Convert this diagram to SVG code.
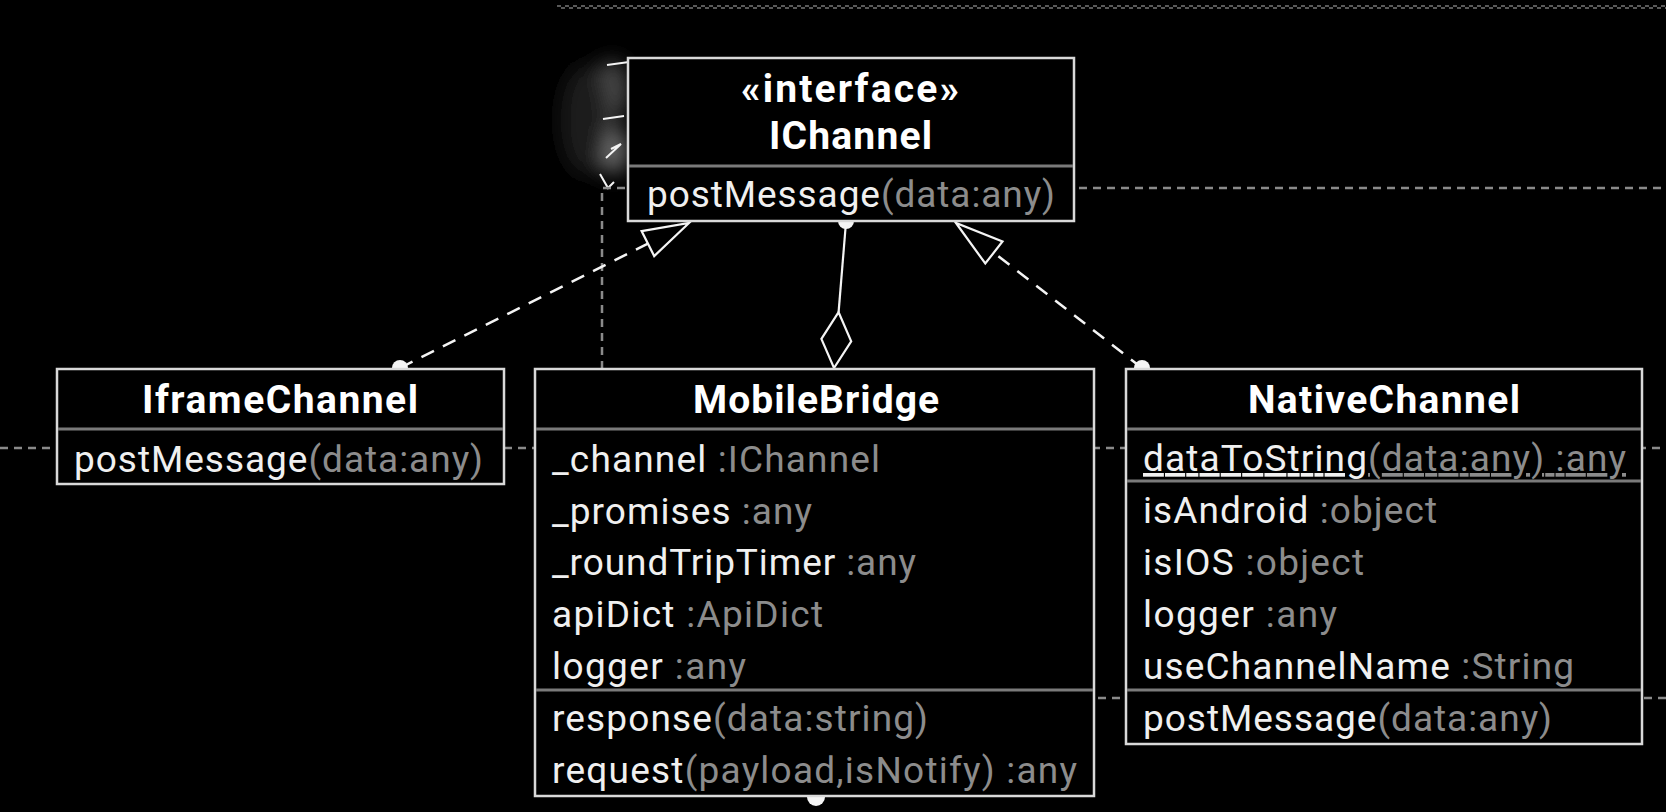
<svg xmlns="http://www.w3.org/2000/svg" width="1666" height="812" viewBox="0 0 1666 812">
<defs>
<style>
.box{fill:#000;stroke:#d9d9d9;stroke-width:2.5}
.div{stroke:#7a7a7a;stroke-width:3}
.t{font-family:Roboto,"Liberation Sans",sans-serif;font-size:37px;fill:#f0f0f0}
.b{font-family:Roboto,"Liberation Sans",sans-serif;font-size:39px;font-weight:bold;fill:#ffffff}
.g{fill:#8c8c8c}
.u{text-decoration:underline}
.bg{fill:none;stroke:#8a8a8a;stroke-width:2.5;stroke-dasharray:8 6}
.real{fill:none;stroke:#f4f4f4;stroke-width:2.5;stroke-dasharray:14 10}
.solid{fill:none;stroke:#f4f4f4;stroke-width:2.2}
.head{fill:#000;stroke:#f4f4f4;stroke-width:2.2;stroke-linejoin:miter}
.dot{fill:#f4f4f4}
</style>
<filter id="blur" x="-100%" y="-100%" width="300%" height="300%"><feGaussianBlur stdDeviation="10"/></filter>
</defs>
<rect width="1666" height="812" fill="#000"/>

<g id="artifact">
<g filter="url(#blur)">
<ellipse cx="612" cy="90" rx="16" ry="30" fill="#4a4a4a"/>
<ellipse cx="614" cy="150" rx="13" ry="24" fill="#707070"/>
<ellipse cx="585" cy="120" rx="24" ry="55" fill="#1e1e1e"/>
</g>
<g fill="none" stroke="#f4f4f4" stroke-width="2">
<path d="M607,65 L629,62"/>
<path d="M603,119 L624,116"/>
<path d="M606,158 L621,144 L611,149"/>
<path d="M600,174 L608,188 L614,182"/>
</g>
</g>

<g id="connectors">
<path d="M557,6 H1666" fill="none" stroke="#777" stroke-width="1.6" stroke-dasharray="4 4"/>
<path d="M557,8 H1666" fill="none" stroke="#777" stroke-width="1.6" stroke-dasharray="4 4" stroke-dashoffset="4"/>
<path class="bg" d="M602,369 V188 H1666"/>
<path class="bg" d="M0,448 H1666"/>
<path class="bg" d="M1000,698 H1666"/>

<path class="real" d="M400,368 L647.9,243.6"/>
<polygon class="head" points="689,223 654.2,256.1 641.6,231.1"/>
<circle class="dot" cx="400" cy="368" r="8"/>

<path class="real" d="M1142,368 L993,252"/>
<polygon class="head" points="956,223 985.3,263.5 1002.5,241.5"/>
<circle class="dot" cx="1142" cy="368" r="8"/>

<path class="solid" d="M846,222 L838.6,312.2"/>
<polygon class="head" points="838.6,312.2 851.2,341.3 834,368 821.4,338.9"/>
<circle class="dot" cx="846" cy="221" r="8"/>

<circle class="dot" cx="816" cy="797" r="9"/>
</g>

<g id="IChannel">
<rect class="box" x="628" y="58" width="446" height="163"/>
<line class="div" x1="629" y1="166" x2="1073" y2="166"/>
<text class="b" x="741" y="102" textLength="218" lengthAdjust="spacing">«interface»</text>
<text class="b" x="769" y="149" textLength="163" lengthAdjust="spacing">IChannel</text>
<text class="t" x="647" y="207" textLength="408" lengthAdjust="spacing">postMessage<tspan class="g">(data:any)</tspan></text>
</g>

<g id="IframeChannel">
<rect class="box" x="57" y="369" width="447" height="115"/>
<line class="div" x1="58" y1="429" x2="503" y2="429"/>
<text class="b" x="142" y="413" textLength="276" lengthAdjust="spacing">IframeChannel</text>
<text class="t" x="74" y="472" textLength="409" lengthAdjust="spacing">postMessage<tspan class="g">(data:any)</tspan></text>
</g>

<g id="MobileBridge">
<rect class="box" x="535" y="369" width="559" height="427"/>
<line class="div" x1="536" y1="429" x2="1093" y2="429"/>
<line class="div" x1="536" y1="690" x2="1093" y2="690"/>
<text class="b" x="693" y="413" textLength="246" lengthAdjust="spacing">MobileBridge</text>
<text class="t" x="552" y="472" textLength="328" lengthAdjust="spacing">_channel<tspan class="g"> :IChannel</tspan></text>
<text class="t" x="552" y="524" textLength="260" lengthAdjust="spacing">_promises<tspan class="g"> :any</tspan></text>
<text class="t" x="552" y="575" textLength="364" lengthAdjust="spacing">_roundTripTimer<tspan class="g"> :any</tspan></text>
<text class="t" x="552" y="627" textLength="271" lengthAdjust="spacing">apiDict<tspan class="g"> :ApiDict</tspan></text>
<text class="t" x="552" y="679" textLength="194" lengthAdjust="spacing">logger<tspan class="g"> :any</tspan></text>
<text class="t" x="552" y="731" textLength="376" lengthAdjust="spacing">response<tspan class="g">(data:string)</tspan></text>
<text class="t" x="552" y="783" textLength="525" lengthAdjust="spacing">request<tspan class="g">(payload,isNotify) :any</tspan></text>
</g>

<g id="NativeChannel">
<rect class="box" x="1126" y="369" width="516" height="375"/>
<line class="div" x1="1127" y1="429" x2="1641" y2="429"/>
<line class="div" x1="1127" y1="481" x2="1641" y2="481"/>
<line class="div" x1="1127" y1="690" x2="1641" y2="690"/>
<text class="b" x="1248" y="413" textLength="272" lengthAdjust="spacing">NativeChannel</text>
<text class="t" x="1143" y="471" textLength="483" lengthAdjust="spacing"><tspan class="u">dataToString</tspan><tspan class="g u">(data:any) :any</tspan></text>
<text class="t" x="1143" y="523" textLength="294" lengthAdjust="spacing">isAndroid<tspan class="g"> :object</tspan></text>
<text class="t" x="1143" y="575" textLength="221" lengthAdjust="spacing">isIOS<tspan class="g"> :object</tspan></text>
<text class="t" x="1143" y="627" textLength="194" lengthAdjust="spacing">logger<tspan class="g"> :any</tspan></text>
<text class="t" x="1143" y="679" textLength="431" lengthAdjust="spacing">useChannelName<tspan class="g"> :String</tspan></text>
<text class="t" x="1143" y="731" textLength="409" lengthAdjust="spacing">postMessage<tspan class="g">(data:any)</tspan></text>
</g>
</svg>
